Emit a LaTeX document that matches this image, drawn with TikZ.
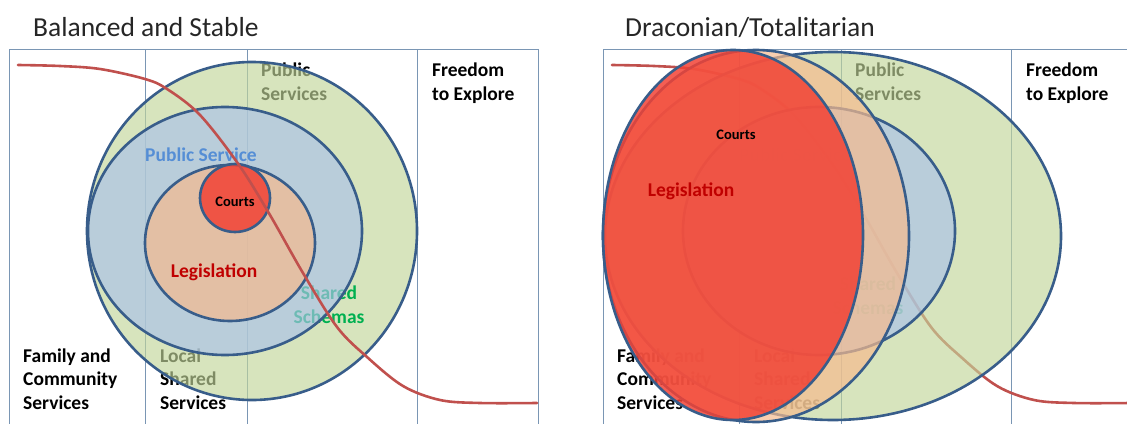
\documentclass[tikz,border=0pt]{standalone}
\usepackage{fontspec}
\setmainfont{Carlito}

\definecolor{outline}{RGB}{56,93,138}
\definecolor{trendred}{RGB}{192,80,77}
\definecolor{framecol}{RGB}{122,150,180}
\definecolor{pubfill}{RGB}{194,214,154}
\definecolor{svcfill}{RGB}{169,193,234}
\definecolor{legfill}{RGB}{246,186,142}
\definecolor{crtfill}{RGB}{242,66,53}
\definecolor{schemagreen}{RGB}{0,176,80}
\definecolor{svcblue}{RGB}{85,142,213}
\definecolor{legred}{RGB}{192,0,0}

\begin{document}
\begin{tikzpicture}[x=1pt,y=-1pt,
        blob/.style={draw=outline,line width=2.6pt},
        frame/.style={draw=framecol,line width=0.9pt},
        trend/.style={draw=trendred,line width=2.6pt,line cap=round},
        lbl/.style={font=\bfseries\fontsize{19.5}{23.5}\selectfont,inner sep=0pt,align=left,anchor=base west},
        ttl/.style={font=\fontsize{27.5}{32}\selectfont,text=black!85,inner sep=0pt,anchor=base west},
        trendline/.pic={
            \draw[trend] plot[smooth,tension=0.55] coordinates {(18,65) (60,66) (100,69) (145,79) (167,89)
                (200,115) (239,165) (270,215) (303,273) (337,327) (367,357) (403,386) (440,400) (480,403) (537,403)};
        }]
    \useasboundingbox (0,0) rectangle (1127,423);
    \clip (0,0) rectangle (1127,423);

    % balanced and stable
    \node[ttl] (ttlL) at (33,36) {Balanced and Stable};
    \draw[frame] (9,49) rectangle (538,440);
    \foreach \x in {145,247,417}
        \draw[frame] (\x,49) -- (\x,440);
    \node[lbl] (famL) at (23,409) {Family and\\Community\\Services};
    \node[lbl] (locL) at (160,409) {Local\\Shared\\Services};
    \node[lbl] (pubsL) at (261,100) {Public\\Services};
    \node[lbl] (freeL) at (432,100) {Freedom\\to Explore};
    \path[blob,fill=pubfill,fill opacity=.65] (252,231) ellipse [x radius=165pt,y radius=169pt];
    \node[lbl,align=center,anchor=base,text=schemagreen] (schL) at (329,323) {Shared\\Schemas};
    \path[blob,fill=svcfill,fill opacity=.65] (225,231) ellipse [x radius=137pt,y radius=124pt];
    \node[lbl,text=svcblue] (svcL) at (145,161) {Public Service};
    \path[blob,fill=legfill,fill opacity=.7] (230,243) ellipse [x radius=85pt,y radius=78pt];
    \node[lbl,anchor=base,text=legred] (legL) at (214,277) {Legislation};
    \path[blob,fill=crtfill,fill opacity=.85] (235,198) ellipse [x radius=35pt,y radius=34pt];
    \node[lbl,anchor=base,font=\bfseries\fontsize{14.5}{17}\selectfont] (crtL) at (235,206) {Courts};
    \pic at (0,0) {trendline};

    % draconian / totalitarian
    \node[ttl] (ttlR) at (625,36) {Draconian/Totalitarian};
    \draw[frame] (603,49) rectangle (1132,440);
    \foreach \x in {739,841,1011}
        \draw[frame] (\x,49) -- (\x,440);
    \pic at (594,0) {trendline};
    \node[lbl] (famR) at (617,409) {Family and\\Community\\Services};
    \node[lbl] (locR) at (754,409) {Local\\Shared\\Services};
    \node[lbl] (pubsR) at (855,100) {Public\\Services};
    \node[lbl,align=center,anchor=base,text=schemagreen] (schR) at (868,314) {Shared\\Schemas};
    \node[lbl,text=svcblue] (svcR) at (739,161) {Public Service};
    \path[blob,fill=pubfill,fill opacity=.65] (833,236) ellipse [x radius=228pt,y radius=184pt];
    \path[blob,fill=svcfill,fill opacity=.65] (819,231) ellipse [x radius=136pt,y radius=124pt];
    \path[blob,fill=legfill,fill opacity=.7] (756,236) ellipse [x radius=153pt,y radius=186pt];
    \path[blob,fill=crtfill,fill opacity=.85] (733,235) ellipse [x radius=130pt,y radius=185pt];
    \node[lbl] (freeR) at (1026,100) {Freedom\\to Explore};
    \node[lbl,anchor=base,text=legred] (legR) at (691,196) {Legislation};
    \node[lbl,anchor=base,font=\bfseries\fontsize{14.5}{17}\selectfont] (crtR) at (736,139) {Courts};
\end{tikzpicture}
\end{document}
